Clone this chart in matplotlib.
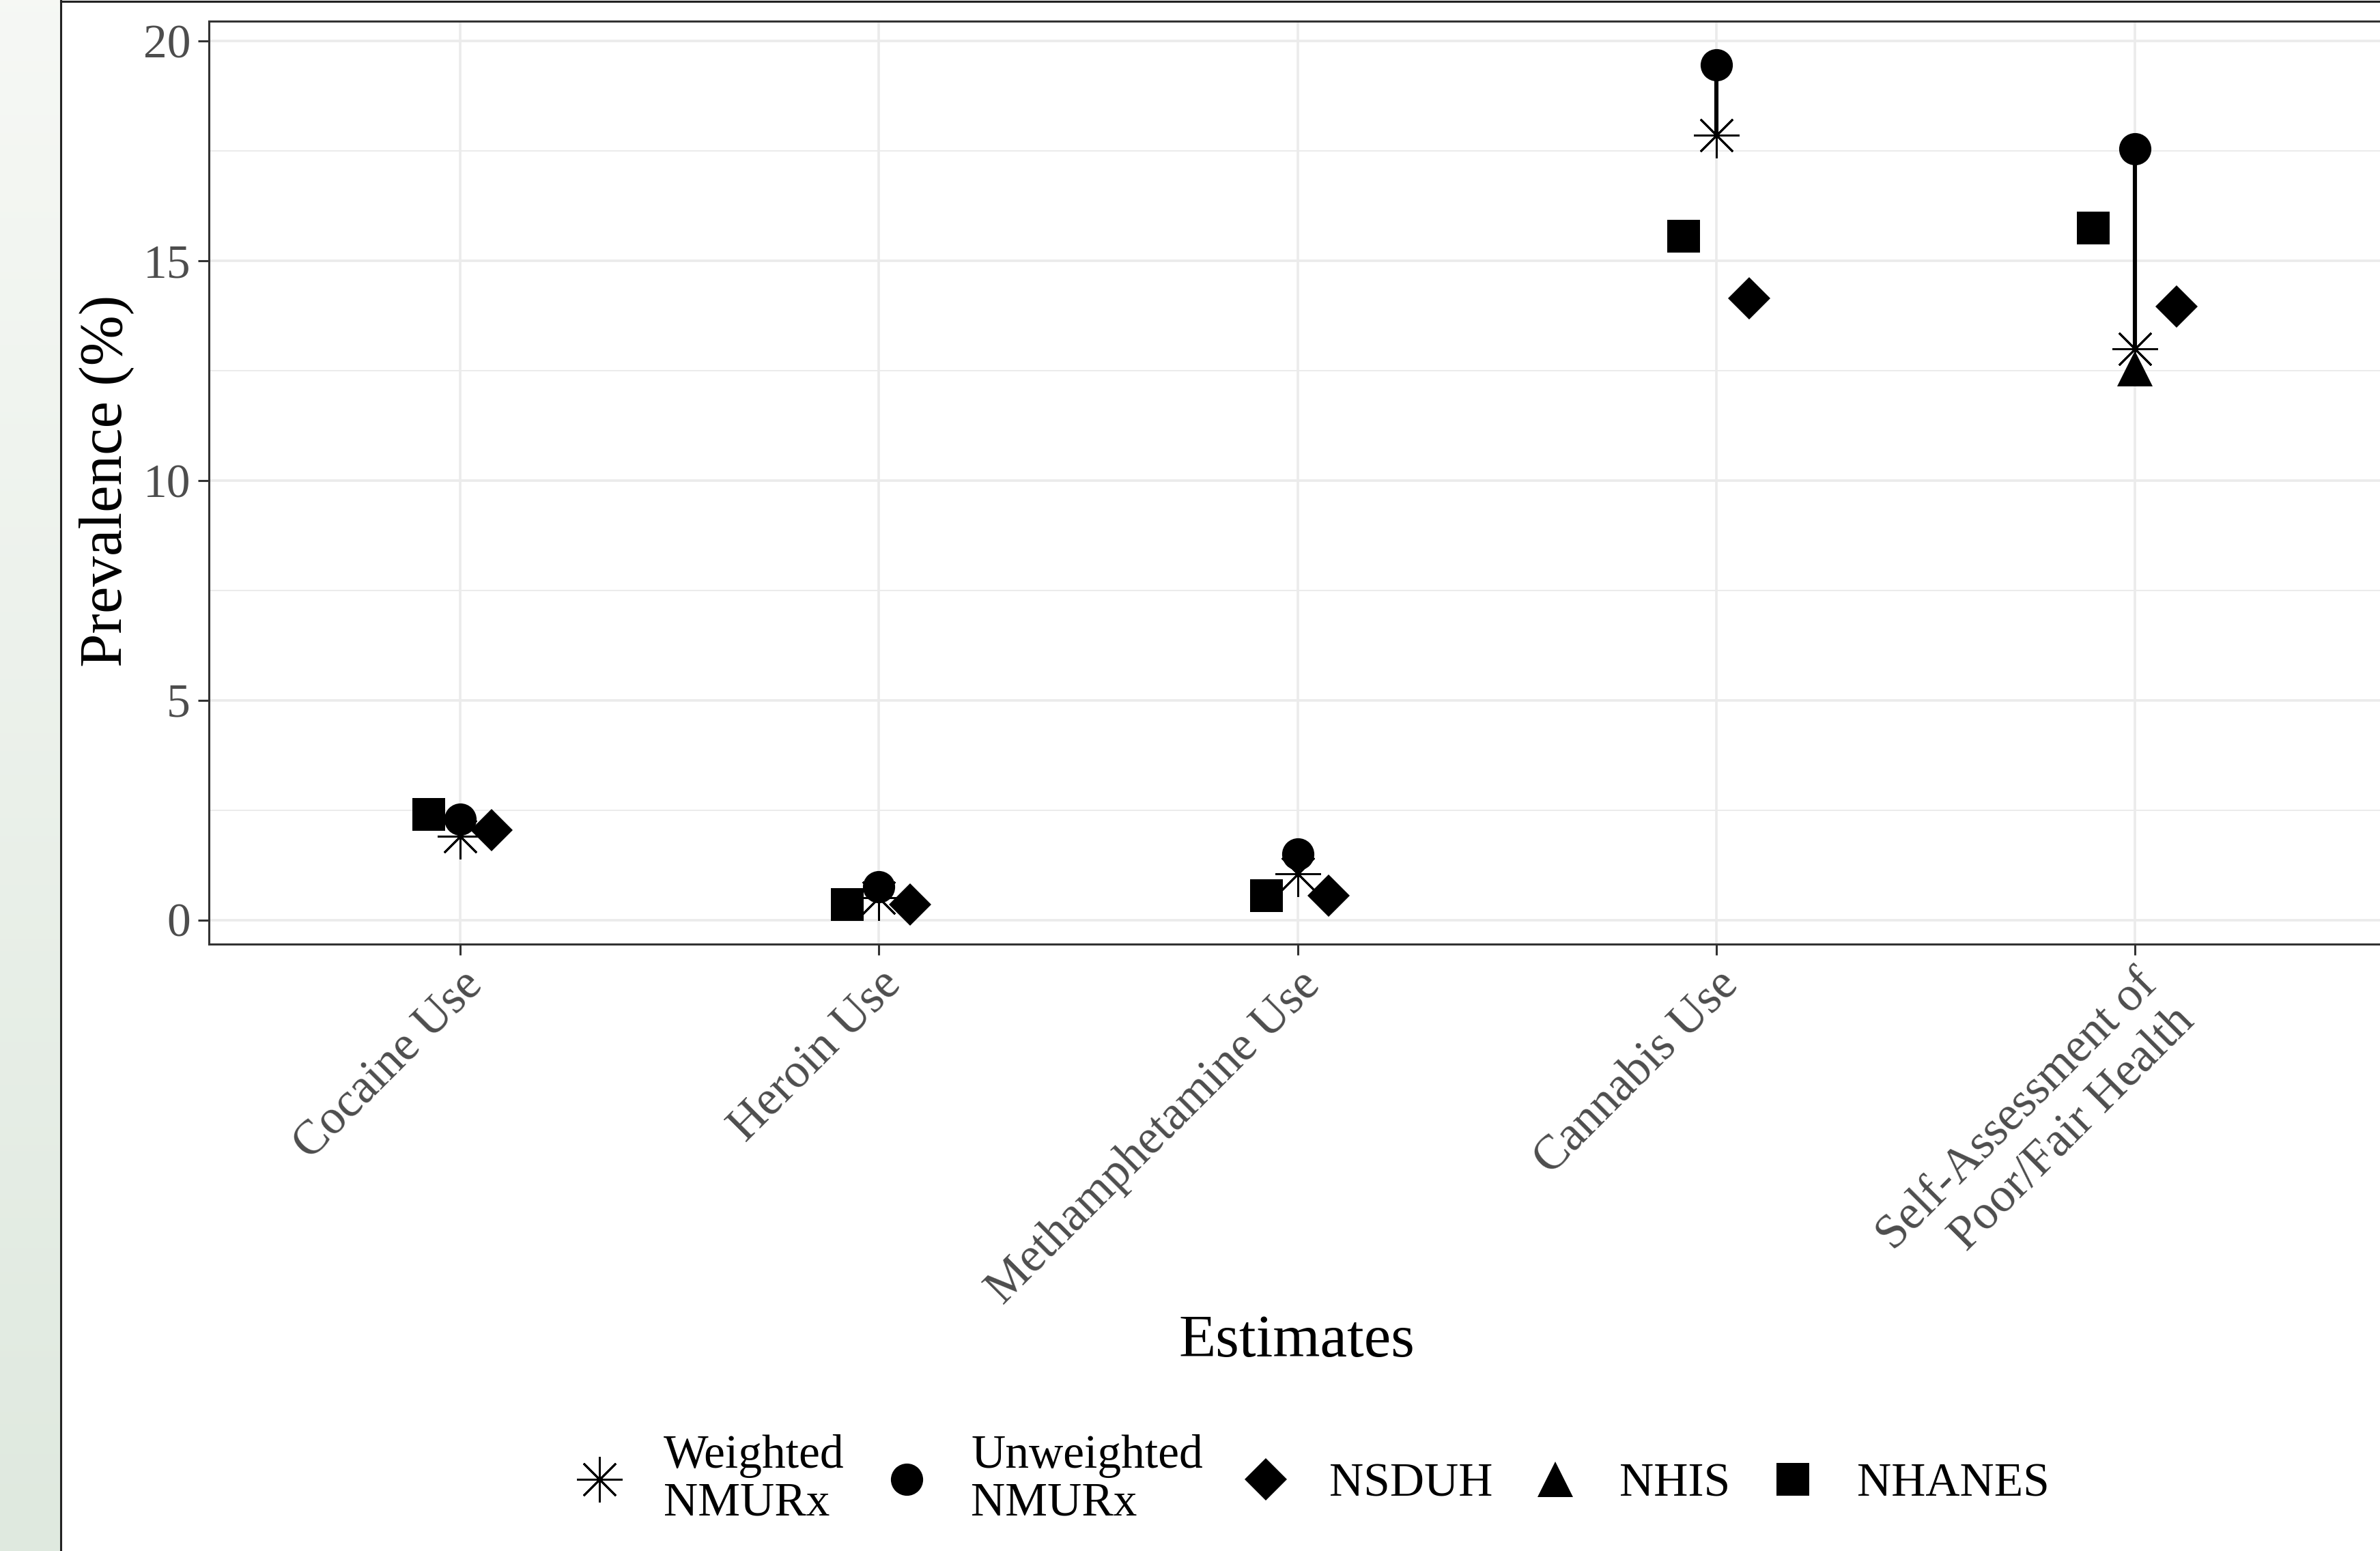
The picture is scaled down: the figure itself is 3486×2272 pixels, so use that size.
import numpy as np
import matplotlib
matplotlib.use("Agg")
import matplotlib.pyplot as plt
from matplotlib.lines import Line2D

# values (prevalence, %)
categories = ["Cocaine Use", "Heroin Use", "Methamphetamine Use", "Cannabis Use",
              "Self-Assessment of\nPoor/Fair Health"]
weighted = [1.9, 0.5, 1.05, 17.85, 13.0]
unweighted = [2.3, 0.75, 1.5, 19.45, 17.55]
nsduh = [2.05, 0.35, 0.55, 14.15, 13.95]
nhis = [np.nan, np.nan, np.nan, np.nan, 12.55]
nhanes = [2.4, 0.35, 0.55, 15.55, 15.75]
yticks = [0, 5, 10, 15, 20]

plt.rcParams["font.family"] = ["Liberation Serif", "DejaVu Serif"]

W, H, DPI = 3486, 2272, 200
fig = plt.figure(figsize=(W / DPI, H / DPI), dpi=DPI)
fig.patch.set_facecolor("white")

# greenish strip on the left edge
strip = fig.add_axes([0, 0, 88 / W, 1])
grad = np.linspace(0, 1, 256).reshape(-1, 1)
top_c = np.array([0.965, 0.973, 0.960])
bot_c = np.array([0.875, 0.914, 0.875])
img = top_c + (bot_c - top_c) * grad[..., None]
strip.imshow(img, aspect="auto", extent=[0, 1, 0, 1], origin="upper")
strip.axis("off")
fig.add_artist(Line2D([89 / W, 89 / W], [0, 1], color="#222222", lw=1.1))
fig.add_artist(Line2D([89 / W, 1], [1 - 1.5 / H, 1 - 1.5 / H], color="#222222", lw=1.1))

ax = fig.add_axes([306 / W, 1 - 1383 / H, (3495 - 306) / W, (1383 - 31) / H])
x = np.arange(len(categories))
dodge = np.array([0.075, 0.075, 0.075, 0.078, 0.10])

ax.vlines(x, weighted, unweighted, color="black", lw=2.2, zorder=3)
ax.plot(x - dodge, nhanes, ls="none", marker="s", ms=17, mfc="black", mec="black",
        mew=0, zorder=4, label="NHANES")
ax.plot(x, unweighted, ls="none", marker="o", ms=17, mfc="black", mec="black",
        mew=0, zorder=5, label="Unweighted\nNMURx")
ax.plot(x, nhis, ls="none", marker="^", ms=19, mfc="black", mec="black",
        mew=0, zorder=5, label="NHIS")
ax.plot(x, weighted, ls="none", marker=(8, 2, 0), ms=24, color="black",
        mew=1.0, zorder=6, label="Weighted\nNMURx")
ax.plot(x + dodge, nsduh, ls="none", marker="D", ms=16, mfc="black", mec="black",
        mew=0, zorder=6, label="NSDUH")

ax.set_xlim(-0.6, len(categories) - 0.4)
ax.set_ylim(-0.55, 20.45)
ax.set_yticks(yticks)
ax.set_yticks([2.5, 7.5, 12.5, 17.5], minor=True)
ax.set_xticks(x)
ax.set_xticklabels(categories, rotation=45, ha="right", va="top",
                   rotation_mode="anchor", multialignment="right")

ax.grid(True, which="major", color="#ebebeb", lw=1.3, zorder=0)
ax.grid(True, which="minor", axis="y", color="#ebebeb", lw=0.7, zorder=0)
ax.set_axisbelow(True)
for sp in ax.spines.values():
    sp.set_color("#333333")
    sp.set_linewidth(1.1)
ax.tick_params(which="major", length=5.7, width=1.1, color="#333333",
               labelcolor="#4d4d4d", labelsize=25, pad=4)
ax.tick_params(axis="x", labelsize=25.5)
ax.tick_params(which="minor", length=0)

fig.text(0.0447, 0.69, "Prevalence (%)", rotation=90, ha="center", va="center",
         fontsize=32, color="black")
fig.text(0.545, 0.135, "Estimates", ha="center", va="center", fontsize=32,
         color="black")

handles, labels = ax.get_legend_handles_labels()
order = ["Weighted\nNMURx", "Unweighted\nNMURx", "NSDUH", "NHIS", "NHANES"]
hmap = dict(zip(labels, handles))
leg = fig.legend([hmap[k] for k in order], order, loc="center",
                 bbox_to_anchor=(0.5515, 0.046), ncol=5, frameon=False,
                 fontsize=25, handlelength=1.0, handletextpad=0.85,
                 columnspacing=0.82)
for t in leg.get_texts():
    t.set_linespacing(1.12)

fig.savefig("out.png", dpi=DPI)
